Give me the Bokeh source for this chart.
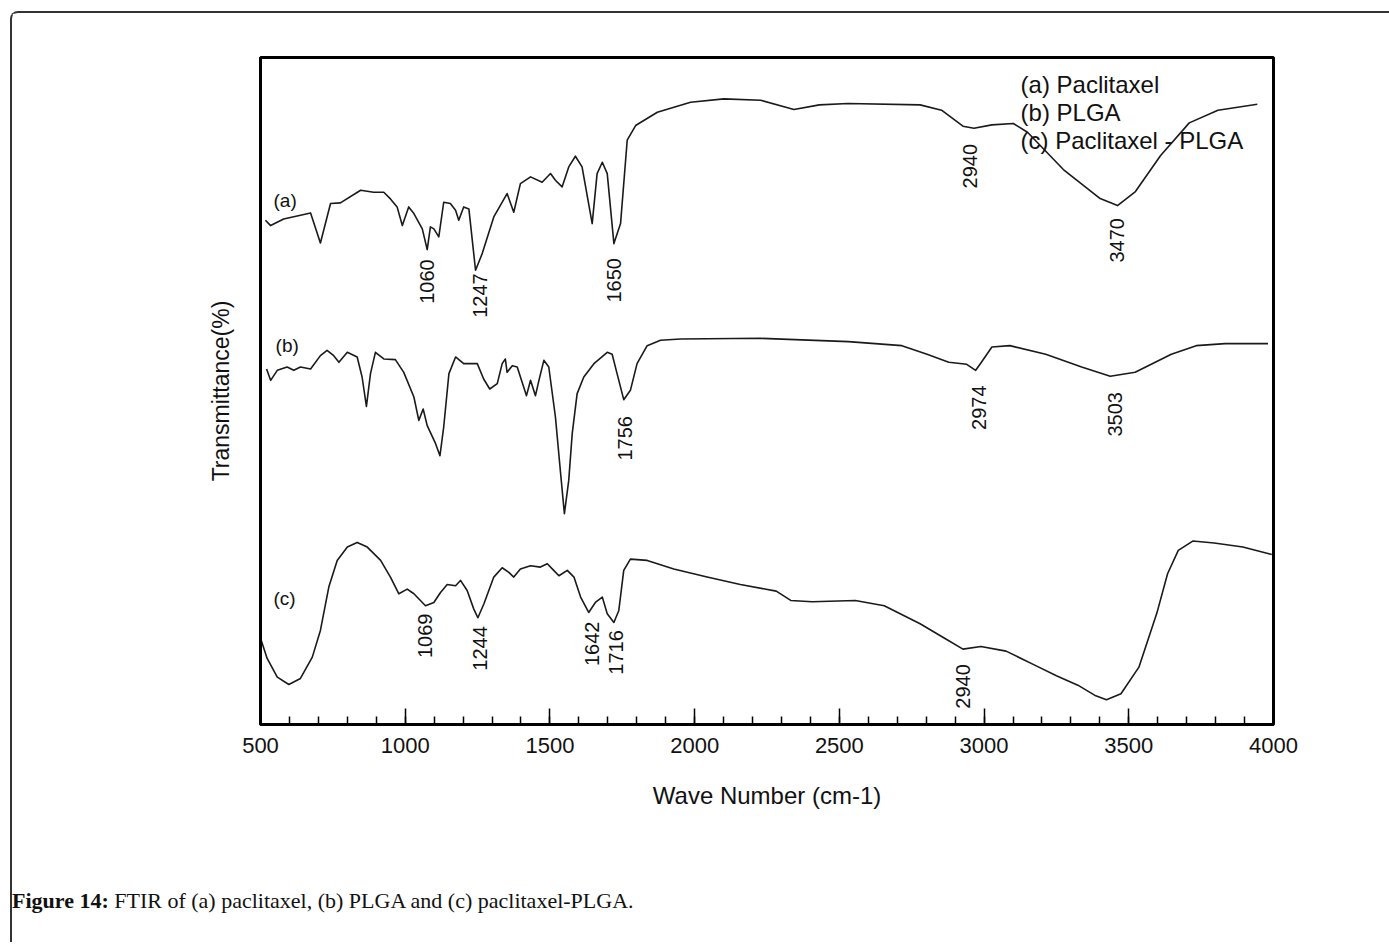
import numpy as np
from bokeh.plotting import figure
from bokeh.layouts import column
from bokeh.models import (Range1d, SingleIntervalTicker, FixedTicker, ColumnDataSource, Div)
from bokeh.core.properties import value
from bokeh.embed import file_html
from bokeh.resources import INLINE

# ---------------- data ----------------
# (a) Paclitaxel
wn_a = [517, 535, 580, 673, 707, 742, 776, 846, 891, 926, 949, 972, 990, 1012, 1030,
        1059, 1076, 1087, 1099, 1116, 1133, 1156, 1174, 1185, 1202, 1220, 1243, 1266, 1306, 1352,
        1375, 1398, 1433, 1473, 1502, 1519, 1542, 1565, 1588, 1611, 1646, 1663, 1681, 1698, 1721,
        1744, 1767, 1796, 1871, 1986, 2101, 2228, 2343, 2431, 2530, 2779, 2853, 2927, 2965, 3027,
        3101, 3150, 3274, 3399, 3461, 3523, 3610, 3709, 3808, 3944]
tr_a = [75.6, 74.8, 75.8, 76.7, 72.2, 78.1, 78.2, 80.1, 79.8, 79.8, 78.8, 77.6, 74.8, 77.6, 76.6,
        74.3, 71.2, 74.6, 74.3, 73.1, 78.3, 78.1, 77.1, 75.6, 77.6, 77.3, 68.1, 70.6, 76.1, 79.6,
        76.8, 81.1, 82.1, 81.3, 82.6, 81.6, 80.6, 83.6, 85.2, 83.6, 75.1, 82.6, 84.3, 82.6, 72.1,
        75.1, 87.6, 89.8, 91.8, 93.3, 93.8, 93.6, 92.2, 92.9, 93.1, 92.9, 92.1, 89.7, 89.4, 89.9,
        90.1, 88.8, 83.2, 78.9, 77.8, 79.9, 85.3, 90.2, 92.1, 93.0]

# (b) PLGA
wn_b = [521, 535, 558, 592, 615, 638, 673, 707, 730, 753, 771, 800, 834, 851, 866,
        880, 897, 926, 966, 995, 1030, 1047, 1062, 1076, 1105, 1120, 1133, 1151, 1174, 1202,
        1249, 1271, 1292, 1318, 1335, 1346, 1352, 1370, 1387, 1404, 1419, 1433, 1450, 1462, 1479,
        1496, 1519, 1537, 1550, 1565, 1577, 1594, 1617, 1652, 1698, 1715, 1732, 1755, 1778, 1801,
        1836, 1882, 1951, 2228, 2531, 2716, 2803, 2878, 2940, 2971, 2989, 3027, 3089, 3213, 3337,
        3436, 3522, 3647, 3733, 3833, 3981]
tr_b = [53.3, 51.6, 53.1, 53.6, 53.1, 53.6, 53.3, 55.3, 56.1, 55.3, 54.3, 55.8, 55.1, 52.1, 47.7,
        52.6, 55.8, 54.8, 54.7, 52.8, 49.1, 45.6, 47.3, 44.8, 42.1, 40.3, 44.6, 52.6, 55.1, 54.1,
        54.1, 51.8, 50.3, 51.1, 54.1, 54.8, 52.8, 53.8, 53.6, 51.3, 49.3, 51.6, 49.3, 51.6, 54.6,
        53.6, 46.1, 37.6, 31.6, 36.6, 43.6, 49.6, 52.1, 54.1, 55.8, 55.5, 52.6, 48.7, 50.1, 54.1,
        56.8, 57.6, 57.8, 57.9, 57.4, 56.8, 55.5, 54.3, 54.0, 53.1, 54.2, 56.6, 56.8, 55.5, 53.6,
        52.2, 52.8, 55.5, 56.8, 57.1, 57.1]

# (c) Paclitaxel - PLGA
wn_c = [501, 523, 558, 598, 638, 679, 707, 736, 765, 800, 834, 869, 915, 949, 978,
        1007, 1030, 1070, 1099, 1122, 1145, 1174, 1191, 1214, 1237, 1251, 1272, 1306, 1335, 1358,
        1375, 1398, 1433, 1467, 1491, 1513, 1531, 1560, 1583, 1606, 1634, 1657, 1681, 1698, 1721,
        1738, 1755, 1778, 1836, 1928, 2043, 2158, 2282, 2332, 2406, 2555, 2655, 2779, 2865, 2927,
        2989, 3076, 3175, 3250, 3324, 3386, 3423, 3473, 3535, 3597, 3634, 3671, 3721, 3795, 3894,
        3994]
tr_c = [12.8, 9.9, 7.1, 6.0, 6.9, 10.1, 14.1, 20.6, 24.6, 26.6, 27.3, 26.6, 24.6, 22.1, 19.6,
        20.3, 19.6, 17.8, 18.3, 19.8, 21.0, 20.8, 21.6, 20.1, 17.3, 16.0, 18.1, 22.1, 23.5, 22.8,
        22.1, 23.3, 23.8, 23.6, 24.1, 23.1, 22.3, 23.1, 22.1, 19.1, 16.8, 18.3, 19.1, 16.6, 15.3,
        17.1, 23.1, 24.8, 24.6, 23.3, 22.1, 21.0, 20.0, 18.6, 18.4, 18.6, 17.8, 15.1, 12.9, 11.3,
        11.7, 11.0, 8.9, 7.3, 5.9, 4.3, 3.7, 4.6, 8.6, 16.7, 22.6, 26.1, 27.5, 27.2, 26.6,
        25.5]

# peak annotations (text, and where the rotated label sits)
peak_text = ["1060", "1247", "1650", "2940", "3470",
             "1756", "2974", "3503",
             "1069", "1244", "1642", "1716", "2940"]
peak_x = [1076, 1260, 1721, 2952, 3461,
          1761, 2983, 3454,
          1070, 1258, 1646, 1727, 2927]
peak_y = [66.4, 64.3, 66.6, 83.7, 72.6,
          42.9, 47.5, 46.5,
          13.3, 11.4, 12.1, 10.8, 5.7]

series_tags = ["(a)", "(b)", "(c)"]
tag_x = [545, 552, 545]
tag_y = [78.6, 56.8, 18.9]

legend_lines = ["(a) Paclitaxel", "(b) PLGA", "(c) Paclitaxel - PLGA"]
legend_x = [3126, 3126, 3126]
legend_y = [95.9, 91.8, 87.6]

x_ticks_interval = 500
caption_bold = "Figure 14:"
caption_rest = "FTIR of (a) paclitaxel, (b) PLGA and (c) paclitaxel-PLGA."

# ---------------- figure ----------------
SANS = "Liberation Sans"
SERIF = "Liberation Serif"

p = figure(width=1377, height=830, x_range=Range1d(500, 4000), y_range=Range1d(0, 100),
           output_backend="svg", toolbar_location=None,
           min_border_left=248, min_border_right=116, min_border_top=44, min_border_bottom=119)
p.background_fill_color = "white"
p.border_fill_color = "white"
p.outline_line_color = "black"
p.outline_line_width = 3
p.xgrid.visible = False
p.ygrid.visible = False

# x axis
xa = p.xaxis[0]
xa.ticker = SingleIntervalTicker(interval=x_ticks_interval, num_minor_ticks=5)
xa.axis_line_width = 3
xa.axis_line_color = "black"
xa.major_tick_in = 16
xa.major_tick_out = 0
xa.minor_tick_in = 8
xa.minor_tick_out = 0
xa.major_tick_line_width = 1.5
xa.minor_tick_line_width = 1.5
xa.major_tick_line_color = "black"
xa.minor_tick_line_color = "black"
xa.major_label_text_font = SANS
xa.major_label_text_font_size = "22px"
xa.major_label_text_color = "#111111"
xa.major_label_standoff = 13
xa.axis_label = "Wave Number (cm-1)"
xa.axis_label_text_font = SANS
xa.axis_label_text_font_size = "24px"
xa.axis_label_text_font_style = "normal"
xa.axis_label_text_color = "#111111"
xa.axis_label_standoff = 26

# y axis (no ticks)
ya = p.yaxis[0]
ya.ticker = FixedTicker(ticks=[])
ya.axis_line_width = 3
ya.axis_line_color = "black"
ya.major_tick_line_color = None
ya.minor_tick_line_color = None
ya.axis_label = "Transmittance(%)"
ya.axis_label_text_font = SANS
ya.axis_label_text_font_size = "23px"
ya.axis_label_text_font_style = "normal"
ya.axis_label_text_color = "#111111"
ya.axis_label_standoff = 27

# spectra
for wn, tr in ((wn_a, tr_a), (wn_b, tr_b), (wn_c, tr_c)):
    p.line(wn, tr, line_color="#1a1a1a", line_width=1.6, line_join="round")

# peak labels (rotated)
src_peaks = ColumnDataSource(dict(x=peak_x, y=peak_y, t=peak_text))
p.text(x="x", y="y", text="t", source=src_peaks, angle=np.pi / 2,
       text_align="center", text_baseline="middle",
       text_font=value(SANS), text_font_size="20px", text_color="#111111")

# series tags
src_tags = ColumnDataSource(dict(x=tag_x, y=tag_y, t=series_tags))
p.text(x="x", y="y", text="t", source=src_tags, text_align="left", text_baseline="middle",
       text_font=value(SANS), text_font_size="19px", text_color="#111111")

# legend text block
src_leg = ColumnDataSource(dict(x=legend_x, y=legend_y, t=legend_lines))
p.text(x="x", y="y", text="t", source=src_leg, text_align="left", text_baseline="middle",
       text_font=value(SANS), text_font_size="24px", text_color="#111111")

# caption
caption = Div(
    text=('<div style="padding-top:46px;padding-left:0px;font-family:\'Liberation Serif\';'
          'font-size:22px;line-height:24px;color:#111111;white-space:nowrap">'
          f'<b>{caption_bold}</b> {caption_rest}</div>'),
    width=1377, height=99)
caption.margin = 0

layout = column(p, caption, spacing=0,
                styles={"border-top": "2px solid #333333", "border-left": "2px solid #333333",
                        "border-top-left-radius": "8px", "background": "white"})
layout.margin = (11, 0, 0, 10)

open("out.html", "w").write(file_html(layout, INLINE))
